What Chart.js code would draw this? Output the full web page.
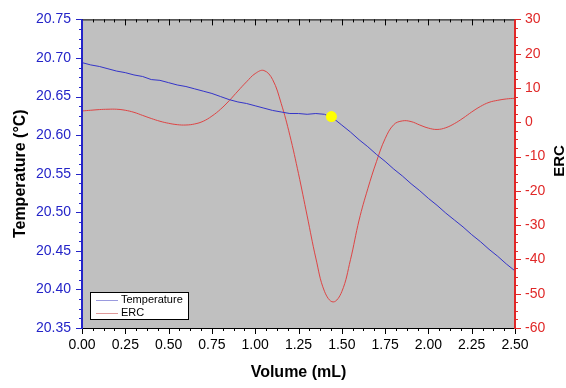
<!DOCTYPE html>
<html>
<head>
<meta charset="utf-8">
<script src="https://cdn.jsdelivr.net/npm/chart.js@4.4.1/dist/chart.umd.min.js"></script>
<style>
  html, body { margin: 0; padding: 0; background: #fff; }
  #wrap { width: 566px; height: 388px; }
</style>
</head>
<body>
<div id="wrap"><canvas id="chart" width="566" height="388"></canvas></div>
<script>
// ===== DATA =====
const volume = [
  0.00, 0.05, 0.10, 0.15, 0.20, 0.25, 0.30, 0.35, 0.40, 0.45,
  0.50, 0.55, 0.60, 0.65, 0.70, 0.75, 0.80, 0.85, 0.90, 0.95,
  1.00, 1.05, 1.10, 1.15, 1.20, 1.25, 1.30, 1.35, 1.40, 1.45,
  1.50, 1.55, 1.60, 1.65, 1.70, 1.75, 1.80, 1.85, 1.90, 1.95,
  2.00, 2.05, 2.10, 2.15, 2.20, 2.25, 2.30, 2.35, 2.40, 2.45,
  2.50
];
const temperature = [
  20.694, 20.691, 20.689, 20.686, 20.683, 20.681, 20.678, 20.676, 20.672, 20.671,
  20.668, 20.665, 20.663, 20.660, 20.657, 20.654, 20.650, 20.646, 20.643, 20.641,
  20.638, 20.635, 20.632, 20.630, 20.628, 20.628, 20.627, 20.628, 20.627, 20.622,
  20.613, 20.604, 20.594, 20.585, 20.575, 20.566, 20.556, 20.547, 20.537, 20.528,
  20.518, 20.509, 20.499, 20.490, 20.481, 20.471, 20.462, 20.452, 20.443, 20.433,
  20.424
];
const erc = [
  3.3, 3.5, 3.7, 3.8, 3.8, 3.5, 2.9, 2.0, 1.1, 0.3,
  -0.3, -0.7, -0.8, -0.5, 0.3, 1.8, 3.8, 6.3, 9.1, 11.8,
  14.2, 15.1, 12.5, 5.5, -3.8, -15.0, -27.3, -39.6, -49.3, -52.4,
  -49.4, -40.1, -28.5, -19.4, -11.5, -4.8, -0.7, 0.4, 0.2, -0.8,
  -1.7, -2.1, -1.6, -0.4, 1.2, 3.0, 4.6, 5.8, 6.4, 6.8,
  7.0
];
const endPointVolume = [1.44];
const endPointTemp = [20.624];

const xRange = [0, 2.5, 0.25];
const tempRange = [20.35, 20.75, 0.05];
const ercRange = [-60, 30, 10];

const FONT = "'Liberation Sans', Arial, sans-serif";
const BLUE = "#3434c8";
const RED = "#dd4444";
const AXIS_BLUE = "#2424c8";
const AXIS_RED = "#e02828";

// ===== AXES, MINOR TICKS, LEGEND =====
function drawTicks(ctx, scale, step, horizontal, base, dir) {
  const minor = step / 4;
  const n = Math.round((scale.max - scale.min) / minor);
  for (let i = 0; i <= n; i++) {
    const p = Math.round(scale.getPixelForValue(scale.min + i * minor)) + 0.5;
    const len = i % 4 === 0 ? 6 : 3;
    ctx.beginPath();
    if (horizontal) {
      ctx.moveTo(p, base);
      ctx.lineTo(p, base + dir * len);
    } else {
      ctx.moveTo(base, p);
      ctx.lineTo(base + dir * len, p);
    }
    ctx.stroke();
  }
}

const plotDecor = {
  id: "plotDecor",
  beforeDraw(chart) {
    const { ctx, chartArea: a } = chart;
    ctx.save();
    ctx.fillStyle = "#c0c0c0";
    ctx.fillRect(a.left, a.top, a.right - a.left, a.bottom - a.top);
    ctx.restore();
  },
  afterDatasetsDraw(chart) {
    const { ctx, chartArea: a, scales } = chart;
    ctx.save();

    // top and bottom axes
    ctx.strokeStyle = "#000";
    ctx.lineWidth = 1;
    ctx.beginPath();
    ctx.moveTo(a.left, a.top + 0.5);
    ctx.lineTo(a.right, a.top + 0.5);
    ctx.moveTo(a.left, a.bottom + 0.5);
    ctx.lineTo(a.right, a.bottom + 0.5);
    ctx.stroke();
    drawTicks(ctx, scales.x, xRange[2], true, a.bottom, 1);
    drawTicks(ctx, scales.x, xRange[2], true, a.top, 1);

    // left axis
    ctx.strokeStyle = AXIS_BLUE;
    drawTicks(ctx, scales.y, tempRange[2], false, a.left, -1);
    ctx.lineWidth = 2;
    ctx.beginPath();
    ctx.moveTo(a.left, a.top);
    ctx.lineTo(a.left, a.bottom + 1);
    ctx.stroke();

    // right axis
    ctx.strokeStyle = AXIS_RED;
    ctx.lineWidth = 1;
    drawTicks(ctx, scales.y1, ercRange[2], false, a.right, 1);
    ctx.lineWidth = 2;
    ctx.beginPath();
    ctx.moveTo(a.right, a.top);
    ctx.lineTo(a.right, a.bottom + 1);
    ctx.stroke();

    // right title reads bottom to top
    ctx.fillStyle = "#000";
    ctx.font = "bold 15px " + FONT;
    ctx.textAlign = "center";
    ctx.textBaseline = "middle";
    ctx.translate(560, 161);
    ctx.rotate(-Math.PI / 2);
    ctx.fillText("ERC", 0, 0);
    ctx.setTransform(1, 0, 0, 1, 0, 0);

    // legend box
    ctx.fillStyle = "#fff";
    ctx.fillRect(90, 292, 98, 27);
    ctx.strokeStyle = "#000";
    ctx.lineWidth = 1;
    ctx.strokeRect(90.5, 292.5, 98, 27);
    const items = [["Temperature", "#9a9ade", 300], ["ERC", "#e09a9a", 313]];
    ctx.font = "11px " + FONT;
    ctx.textAlign = "left";
    ctx.textBaseline = "middle";
    items.forEach(([label, color, y]) => {
      ctx.strokeStyle = color;
      ctx.beginPath();
      ctx.moveTo(96, y + 0.5);
      ctx.lineTo(118, y + 0.5);
      ctx.stroke();
      ctx.fillStyle = "#000";
      ctx.fillText(label, 121, y);
    });
    ctx.restore();
  }
};

// ===== CHART =====
const ctx = document.getElementById("chart").getContext("2d");
new Chart(ctx, {
  type: "line",
  data: {
    datasets: [
      {
        label: "End point",
        data: endPointVolume.map((v, i) => ({ x: v, y: endPointTemp[i] })),
        yAxisID: "y",
        showLine: false,
        pointRadius: 5.5,
        pointBackgroundColor: "#ffff00",
        pointBorderWidth: 0
      },
      {
        label: "Temperature",
        data: volume.map((v, i) => ({ x: v, y: temperature[i] })),
        yAxisID: "y",
        borderColor: BLUE,
        borderWidth: 1,
        pointRadius: 0,
        tension: 0
      },
      {
        label: "ERC",
        data: volume.map((v, i) => ({ x: v, y: erc[i] })),
        yAxisID: "y1",
        borderColor: RED,
        borderWidth: 1,
        pointRadius: 0,
        tension: 0.4
      }
    ]
  },
  options: {
    responsive: false,
    animation: false,
    devicePixelRatio: 1,
    layout: { padding: { top: 10, left: 0, right: 0, bottom: 0 } },
    plugins: { legend: { display: false }, tooltip: { enabled: false } },
    scales: {
      x: {
        type: "linear",
        min: xRange[0],
        max: xRange[1],
        afterFit: s => { s.height = 60; },
        grid: { display: false, drawTicks: false },
        border: { display: false },
        ticks: {
          stepSize: xRange[2],
          maxRotation: 0,
          autoSkip: false,
          padding: 9,
          color: "#000",
          font: { family: FONT, size: 14 },
          callback: v => v.toFixed(2)
        },
        title: {
          display: true,
          text: "Volume (mL)",
          color: "#000",
          font: { family: FONT, size: 16, weight: "bold" },
          padding: { top: 0, bottom: 6 }
        }
      },
      y: {
        position: "left",
        min: tempRange[0],
        max: tempRange[1],
        afterFit: s => { s.width = 82; },
        grid: { display: false, drawTicks: false },
        border: { display: false },
        ticks: {
          stepSize: tempRange[2],
          padding: 11,
          color: AXIS_BLUE,
          font: { family: FONT, size: 14 },
          callback: v => v.toFixed(2)
        },
        title: {
          display: true,
          text: "Temperature (°C)",
          color: "#000",
          font: { family: FONT, size: 16, weight: "bold" },
          padding: { top: 11, bottom: 0 }
        }
      },
      y1: {
        position: "right",
        min: ercRange[0],
        max: ercRange[1],
        afterFit: s => { s.width = 51; },
        grid: { display: false, drawTicks: false },
        border: { display: false },
        ticks: {
          stepSize: ercRange[2],
          padding: 10,
          color: AXIS_RED,
          font: { family: FONT, size: 14 }
        }
      }
    }
  },
  plugins: [plotDecor]
});
</script>
</body>
</html>
